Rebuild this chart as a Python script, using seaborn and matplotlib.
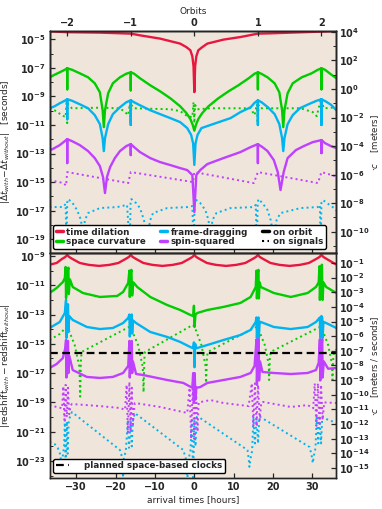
import numpy as np
import matplotlib
matplotlib.use('Agg')
import matplotlib.pyplot as plt
import seaborn as sns
from matplotlib.lines import Line2D
from matplotlib.ticker import FixedLocator, NullFormatter

# 1. Dados: (horas, log10 do valor)
C = 2.998e8           # m/s
PERIOD = 16.15        # horas por órbita
orbit_ticks = [-2, -1, 0, 1, 2]
hour_ticks = [-30, -20, -10, 0, 10, 20, 30]
CLOCK_LEVEL = 2.3e-16

# painel superior: |dt_with - dt_without| [s]
td_delay = [(-36.8, -4.44), (-32.3, -4.5), (-24.0, -4.53), (-16.15, -4.6), (-13.8, -4.72), (-8.7, -4.95),
            (-3.6, -5.3), (-2.0, -5.55), (-1.0, -5.77), (-0.5, -6.2), (-0.2, -6.9), (0, -8.7), (0.2, -6.9),
            (0.5, -6.2), (1.0, -5.77), (2.0, -5.55), (3.3, -5.3), (7.4, -5.02), (11.7, -4.84), (16.15, -4.6),
            (19.4, -4.58), (24.5, -4.53), (32.3, -4.46), (36.1, -4.42)]

sc_delay = [(-36.8, -7.66), (-35.5, -7.48), (-34.2, -7.31), (-32.9, -7.13), (-32.3, -7.03), (-32.3, -8.5),
            (-32.3, -7.03), (-31.1, -7.13), (-29.1, -7.38), (-27.0, -7.66), (-25.3, -8.08), (-24.0, -8.71),
            (-23.3, -9.97), (-23.0, -11.15), (-22.7, -9.97), (-21.9, -8.78), (-20.7, -8.08), (-18.9, -7.66),
            (-17.3, -7.41), (-16.15, -7.31), (-16.15, -8.57), (-16.15, -7.31), (-15.3, -7.41), (-13.8, -7.73),
            (-11.2, -8.22), (-8.7, -8.64), (-6.1, -9.13), (-3.6, -9.69), (-2.0, -10.17), (-1.0, -10.59),
            (-0.4, -11.0), (0, -11.4), (0.4, -11.0), (1.0, -10.59), (2.0, -10.17), (3.6, -9.69), (6.1, -9.13),
            (8.7, -8.64), (11.2, -8.22), (13.8, -7.73), (15.3, -7.41), (16.15, -7.31), (16.15, -8.5),
            (16.15, -7.31), (17.0, -7.41), (18.6, -7.66), (20.4, -8.08), (21.6, -8.71), (22.3, -9.97),
            (22.6, -11.15), (22.9, -9.97), (23.7, -8.78), (25.0, -8.08), (27.3, -7.66), (29.8, -7.38),
            (31.4, -7.13), (32.3, -7.03), (32.3, -8.5), (32.3, -7.03), (33.2, -7.13), (34.7, -7.45), (36.1, -7.73)]

sc_delay_sig = [(-36.8, -9.83), (-35.5, -9.97), (-33.7, -10.31), (-32.7, -10.45), (-32.45, -9.27), (-32.3, -10.87),
                (-32.15, -9.5), (-31.1, -9.83), (-24.0, -9.79), (-18.9, -9.83), (-17.6, -10.1), (-16.8, -10.31),
                (-16.4, -9.55), (-16.2, -10.87), (-16.0, -9.6), (-15.3, -9.83), (-6.1, -9.9), (-3.6, -10.03),
                (-1.8, -10.38), (-0.5, -10.45), (-0.2, -9.4), (0, -10.87), (0.2, -9.6), (0.8, -9.9), (4.1, -9.83),
                (14.3, -9.83), (15.3, -10.31), (15.9, -9.55), (16.1, -10.87), (16.3, -9.6), (16.8, -9.83),
                (27.0, -9.83), (30.1, -10.1), (31.1, -10.38), (32.1, -9.27), (32.3, -10.87), (32.5, -9.5),
                (32.9, -9.83), (36.1, -9.76)]

fd_delay = [(-36.8, -9.83), (-35.5, -9.69), (-34.2, -9.48), (-32.9, -9.3), (-32.3, -9.2), (-32.3, -10.6),
            (-32.3, -9.2), (-31.1, -9.3), (-29.1, -9.55), (-27.0, -9.83), (-25.3, -10.31), (-24.0, -10.94),
            (-23.3, -11.92), (-23.0, -12.83), (-22.7, -11.92), (-21.9, -10.94), (-20.7, -10.24), (-18.9, -9.76),
            (-17.3, -9.41), (-16.15, -9.27), (-16.15, -11.0), (-16.15, -9.27), (-15.3, -9.41), (-13.8, -9.62),
            (-11.2, -9.97), (-8.7, -10.24), (-6.1, -10.52), (-3.6, -10.8), (-1.8, -11.22), (-0.8, -11.7),
            (-0.3, -12.3), (0, -13.8), (0.3, -12.3), (0.8, -11.7), (1.8, -11.22), (4.1, -11.0), (9.2, -10.52),
            (11.7, -10.1), (14.3, -9.76), (15.3, -9.45), (16.15, -9.27), (16.15, -11.0), (16.15, -9.27),
            (17.1, -9.41), (18.7, -9.76), (20.4, -10.24), (21.6, -10.94), (22.3, -11.92), (22.6, -12.83),
            (22.9, -11.92), (23.7, -10.94), (25.0, -10.31), (26.8, -9.83), (29.0, -9.55), (31.1, -9.3),
            (32.3, -9.2), (32.3, -11.0), (32.3, -9.2), (33.4, -9.35), (34.8, -9.6), (36.1, -9.97)]

fd_delay_sig = [(-36.8, -16.75), (-33.4, -16.75), (-32.7, -16.54), (-32.5, -19.5), (-32.3, -16.45), (-32.1, -16.19),
                (-31.1, -16.4), (-29.8, -16.96), (-28.8, -17.66), (-28.3, -18.9), (-27.8, -17.66), (-27.0, -17.17),
                (-24.0, -16.82), (-19.6, -16.75), (-17.1, -16.6), (-16.4, -19.5), (-16.2, -16.45), (-16.0, -16.19),
                (-14.8, -16.47), (-13.8, -16.82), (-12.8, -17.66), (-12.0, -18.9), (-11.2, -17.66), (-10.5, -17.17),
                (-6.9, -16.82), (-1.8, -16.75), (-0.5, -16.68), (-0.2, -19.5), (0.1, -16.45), (0.5, -16.26),
                (1.5, -16.47), (2.8, -16.96), (3.6, -17.66), (4.1, -18.9), (4.6, -17.66), (5.6, -17.17),
                (9.2, -16.82), (15.1, -16.75), (15.6, -16.6), (15.9, -19.5), (16.1, -16.45), (16.3, -16.19),
                (17.3, -16.47), (18.6, -16.96), (19.4, -17.66), (20.2, -18.9), (20.9, -17.66), (21.9, -17.17),
                (27.0, -16.82), (31.4, -16.75), (31.9, -16.6), (32.1, -19.5), (32.3, -16.45), (32.7, -16.26),
                (33.7, -16.47), (35.5, -16.82), (36.1, -17.0)]

ss_delay = [(-36.8, -12.76), (-36.0, -12.69), (-34.2, -12.41), (-32.9, -12.13), (-32.3, -11.99), (-32.3, -13.67),
            (-32.3, -11.99), (-31.1, -12.13), (-29.1, -12.41), (-27.0, -12.83), (-25.3, -13.32), (-24.0, -13.88),
            (-23.2, -14.65), (-22.7, -15.77), (-22.2, -14.65), (-21.4, -13.95), (-20.2, -13.32), (-18.9, -12.83),
            (-17.3, -12.48), (-16.15, -12.34), (-16.15, -13.11), (-16.15, -12.34), (-15.3, -12.55), (-13.8, -12.9),
            (-11.2, -13.32), (-8.7, -13.6), (-6.1, -13.81), (-3.6, -14.02), (-1.8, -14.16), (-0.5, -14.51),
            (0, -17.1), (0.5, -14.51), (1.5, -14.16), (3.3, -13.74), (7.4, -13.32), (11.7, -12.9), (14.3, -12.55),
            (16.15, -12.34), (16.15, -13.67), (16.15, -12.34), (17.3, -12.55), (18.6, -12.83), (20.2, -13.46),
            (21.2, -14.3), (21.9, -15.56), (22.7, -14.3), (23.7, -13.32), (25.8, -12.76), (27.8, -12.48),
            (30.1, -12.2), (32.3, -12.06), (32.3, -12.97), (32.3, -12.06), (33.2, -12.27), (34.7, -12.48),
            (36.1, -12.62)]

ss_delay_sig = [(-36.8, -14.86), (-33.2, -15.07), (-32.6, -15.25), (-32.3, -14.3), (-16.8, -15.07), (-16.15, -14.3),
                (-0.3, -15.0), (0, -14.3), (15.1, -15.07), (16.15, -14.3), (31.4, -15.07), (32.3, -14.3),
                (36.1, -14.6)]

# painel inferior: |redshift_with - redshift_without|
td_shift = [(-36.8, -9.6), (-35.0, -9.48), (-33.6, -9.2), (-32.8, -9.07), (-32.3, -8.93), (-31.8, -9.07),
            (-31.0, -9.2), (-29.1, -9.48), (-26.8, -9.61), (-24.2, -9.68), (-21.6, -9.61), (-19.3, -9.48),
            (-17.45, -9.2), (-16.65, -9.07), (-16.15, -8.93), (-15.65, -9.07), (-14.85, -9.2), (-12.95, -9.48),
            (-10.65, -9.61), (-8.1, -9.68), (-5.5, -9.61), (-3.2, -9.48), (-1.3, -9.2), (-0.5, -9.07), (0, -8.93),
            (0.5, -9.07), (1.3, -9.2), (3.2, -9.48), (5.5, -9.61), (8.1, -9.68), (10.65, -9.61), (12.95, -9.48),
            (14.85, -9.2), (15.65, -9.07), (16.15, -8.93), (16.65, -9.07), (17.45, -9.2), (19.35, -9.48),
            (21.65, -9.61), (24.2, -9.68), (26.8, -9.61), (29.1, -9.48), (31.0, -9.2), (31.8, -9.07),
            (32.3, -8.93), (32.8, -9.07), (33.6, -9.2), (35.5, -9.5), (36.1, -9.58)]

sc_shift = [(-36.8, -11.53), (-35.0, -11.19), (-33.4, -10.78), (-32.9, -10.5), (-32.7, -9.75), (-32.6, -11.87),
            (-32.3, -10.2), (-32.0, -9.8), (-31.9, -11.6), (-31.6, -10.6), (-30.9, -11.12), (-28.3, -11.53),
            (-24.0, -11.8), (-19.6, -11.73), (-18.1, -11.46), (-16.8, -10.84), (-16.5, -10.0), (-16.4, -11.8),
            (-16.15, -10.2), (-16.0, -9.95), (-15.8, -11.7), (-15.5, -10.8), (-14.5, -11.12), (-11.2, -11.8),
            (-6.9, -12.35), (-3.6, -12.69), (-1.0, -13.03), (-0.3, -13.1), (-0.1, -12.4), (0.05, -13.85),
            (0.3, -13.0), (0.8, -12.89), (3.3, -12.69), (7.4, -12.48), (11.7, -12.21), (14.3, -11.8),
            (15.6, -11.12), (15.8, -10.0), (15.9, -11.9), (16.15, -10.1), (16.3, -9.95), (16.4, -11.9),
            (16.6, -10.8), (16.9, -11.12), (20.2, -11.53), (24.5, -11.8), (28.8, -11.53), (30.9, -11.12),
            (31.6, -10.8), (31.8, -9.7), (31.9, -12.0), (32.2, -10.0), (32.4, -9.6), (32.6, -12.0),
            (32.8, -10.8), (33.5, -11.12), (36.1, -11.53)]

sc_shift_sig = [(-36.8, -14.74), (-34.2, -14.33), (-32.5, -13.85), (-32.1, -13.92), (-30.4, -15.08), (-29.2, -16.58),
                (-29.0, -18.6), (-28.8, -16.0), (-28.6, -15.55), (-16.6, -13.85), (-16.1, -13.92), (-14.3, -15.08),
                (-13.1, -16.58), (-12.9, -18.3), (-12.7, -16.0), (-12.5, -15.55), (-0.4, -13.71), (0.1, -13.85),
                (1.8, -15.08), (2.9, -16.58), (3.0, -17.67), (3.2, -16.0), (3.4, -15.55), (15.7, -13.85),
                (16.2, -13.92), (17.9, -15.08), (18.9, -16.4), (19.0, -17.47), (19.2, -16.0), (19.4, -15.55),
                (31.9, -13.85), (32.4, -13.92), (34.0, -15.08), (35.0, -16.4), (35.1, -17.47), (35.3, -16.0),
                (35.5, -15.55), (36.1, -15.4)]

fd_shift = [(-36.8, -13.92), (-34.2, -13.51), (-32.9, -12.89), (-32.6, -12.0), (-32.5, -14.6), (-32.3, -12.6),
            (-32.1, -12.3), (-32.0, -14.2), (-31.8, -13.1), (-30.9, -13.37), (-27.3, -13.85), (-24.0, -13.99),
            (-20.7, -13.92), (-18.1, -13.58), (-16.8, -13.23), (-16.5, -13.0), (-16.4, -14.5), (-16.15, -13.2),
            (-15.9, -13.0), (-15.8, -14.3), (-15.6, -13.4), (-14.8, -13.58), (-11.2, -14.19), (-6.9, -14.53),
            (-3.6, -14.87), (-1.0, -15.22), (-0.3, -15.3), (-0.1, -14.9), (0.05, -16.6), (0.2, -15.0),
            (0.5, -15.3), (0.8, -15.28), (3.3, -15.08), (7.4, -14.74), (11.7, -14.4), (14.3, -14.05),
            (15.6, -13.51), (15.8, -13.2), (15.9, -14.6), (16.15, -13.3), (16.3, -13.2), (16.4, -14.6),
            (16.6, -13.5), (16.9, -13.51), (20.2, -13.85), (24.5, -13.99), (28.8, -13.85), (30.9, -13.51),
            (31.6, -13.3), (31.9, -13.2), (32.0, -14.6), (32.3, -13.1), (32.5, -13.2), (32.6, -14.6),
            (32.8, -13.5), (33.5, -13.58), (36.1, -13.92)]

fd_shift_sig = [(-36.8, -21.7), (-35.5, -21.84), (-34.7, -22.11), (-34.0, -22.6), (-33.7, -23.6), (-33.4, -22.6),
                (-33.1, -22.0), (-32.9, -20.2), (-32.7, -23.2), (-32.4, -20.3), (-32.2, -22.5), (-31.9, -20.2),
                (-31.1, -19.66), (-18.9, -22.25), (-18.3, -22.8), (-18.1, -24.3), (-17.9, -22.8), (-17.4, -22.3),
                (-16.9, -20.2), (-16.6, -22.1), (-16.2, -20.3), (-15.9, -22.0), (-15.6, -20.2), (-15.1, -19.73),
                (-2.8, -22.25), (-2.2, -22.8), (-1.8, -24.3), (-1.4, -22.8), (-1.0, -22.3), (-0.6, -20.2),
                (-0.3, -24.3), (0, -20.2), (0.3, -22.0), (0.6, -20.0), (1.5, -20.07), (13.5, -22.25),
                (13.8, -22.8), (14.0, -23.4), (14.3, -22.8), (14.7, -22.3), (15.0, -20.0), (15.4, -21.8),
                (15.8, -20.1), (16.2, -21.8), (16.5, -20.0), (16.8, -20.0), (29.3, -22.05), (29.8, -22.6),
                (30.1, -23.14), (30.4, -22.6), (30.8, -22.1), (31.1, -19.9), (31.5, -21.8), (31.8, -19.9),
                (32.2, -21.8), (32.5, -20.0), (32.9, -20.07), (36.1, -20.4)]

ss_shift = [(-36.8, -16.65), (-35.0, -16.38), (-33.4, -15.97), (-32.8, -15.3), (-32.6, -14.74), (-32.5, -17.3),
            (-32.3, -15.2), (-32.1, -14.8), (-32.0, -17.0), (-31.8, -15.8), (-30.9, -16.79), (-27.3, -17.26),
            (-24.0, -17.33), (-20.7, -17.26), (-18.1, -16.99), (-16.8, -16.51), (-16.5, -14.8), (-16.4, -17.3),
            (-16.15, -15.2), (-15.9, -14.8), (-15.8, -17.0), (-15.6, -16.2), (-14.8, -17.06), (-13.0, -17.13),
            (-6.9, -17.47), (-2.8, -17.67), (-0.5, -18.0), (-0.3, -17.0), (-0.1, -19.0), (0.1, -17.0),
            (0.3, -18.8), (0.5, -18.0), (1.5, -17.95), (3.3, -17.67), (7.4, -17.47), (11.7, -17.26),
            (14.3, -16.99), (15.3, -16.51), (15.8, -14.7), (15.9, -17.8), (16.15, -15.2), (16.35, -14.7),
            (16.45, -17.5), (16.7, -16.2), (17.3, -16.92), (20.2, -16.99), (24.5, -17.06), (28.8, -16.99),
            (30.9, -16.79), (31.6, -16.3), (31.9, -14.7), (32.0, -17.5), (32.3, -15.2), (32.5, -14.7),
            (32.6, -17.3), (32.9, -16.2), (34.0, -16.7), (36.1, -16.65)]

ss_shift_sig = [(-36.8, -19.18), (-35.0, -19.31), (-33.6, -19.4), (-33.3, -17.9), (-33.0, -20.2), (-32.7, -17.8),
                (-32.4, -20.0), (-32.1, -18.0), (-31.8, -19.8), (-31.4, -19.2), (-31.1, -19.11), (-24.0, -19.25),
                (-18.9, -19.38), (-17.6, -19.5), (-17.2, -17.8), (-16.9, -21.1), (-16.5, -17.6), (-16.2, -21.0),
                (-15.9, -18.0), (-15.6, -20.5), (-15.2, -19.2), (-15.1, -19.04), (-8.7, -19.31), (-1.8, -19.72),
                (-1.2, -18.0), (-0.8, -21.5), (-0.4, -17.7), (0, -21.5), (0.4, -17.8), (0.8, -21.0), (1.1, -19.0),
                (4.1, -18.84), (7.4, -19.04), (13.8, -19.25), (14.6, -17.7), (15.0, -20.6), (15.4, -17.7),
                (15.8, -20.6), (16.2, -17.8), (16.6, -20.2), (17.0, -19.0), (17.5, -18.97), (24.5, -19.31),
                (28.8, -19.18), (30.2, -19.4), (30.6, -17.7), (31.0, -20.6), (31.4, -17.7), (31.8, -20.6),
                (32.2, -17.8), (32.6, -20.2), (33.0, -19.0), (36.1, -19.04)]

# 2. Estilo
sns.set_style('ticks')
plt.rcParams['font.family'] = ['DejaVu Sans']
plt.rcParams['axes.linewidth'] = 1.0

RED, GREEN, BLUE, PURPLE = '#e8173f', '#00cc00', '#00b4f0', '#bf40ff'
BG = '#f0e5da'
XLIM = (-36.8, 36.0)
YLIM_TOP = (10 ** -19.97, 10 ** -4.42)
YLIM_BOT = (10 ** -24.16, 10 ** -8.8)


def draw(ax, pts, color, ls='-'):
    t, e = zip(*pts)
    lw = 1.7 if ls == '-' else 1.4
    sns.lineplot(x=np.array(t), y=10.0 ** np.array(e), ax=ax, color=color, linewidth=lw,
                 linestyle=ls, estimator=None, sort=False)


def bold_pow(exps):
    return [rf'$\mathbf{{10^{{{e}}}}}$' for e in exps]


def setup_log_axis(ax, lo, hi, step, ylim, pad=3.0):
    ax.set_yscale('log')
    ax.set_ylim(ylim)
    exps = list(range(hi, lo - 1, -step))
    ax.yaxis.set_major_locator(FixedLocator([10.0 ** e for e in exps]))
    ax.set_yticklabels(bold_pow(exps), fontsize=7)
    ax.yaxis.set_minor_locator(FixedLocator([10.0 ** e for e in range(hi + 2, lo - 3, -1)]))
    ax.yaxis.set_minor_formatter(NullFormatter())
    ax.tick_params(axis='y', which='major', direction='in', length=3.5, width=0.9, pad=pad)
    ax.tick_params(axis='y', which='minor', direction='in', length=2, width=0.7)


def minus(v):
    return str(v).replace('-', '\u2212')


fig = plt.figure(figsize=(3.82, 5.09), dpi=100)
ax1 = fig.add_axes([0.1296, 0.5029, 0.75, 0.4361])
ax2 = fig.add_axes([0.1296, 0.0609, 0.75, 0.4420])

# 3. Painel superior
ax1.set_facecolor(BG)
ax1.set_yscale('log')
draw(ax1, td_delay, RED)
draw(ax1, sc_delay, GREEN)
draw(ax1, sc_delay_sig, GREEN, ':')
draw(ax1, fd_delay, BLUE)
draw(ax1, fd_delay_sig, BLUE, ':')
draw(ax1, ss_delay, PURPLE)
draw(ax1, ss_delay_sig, PURPLE, ':')
ax1.set_xlim(XLIM)
setup_log_axis(ax1, -19, -5, 2, YLIM_TOP)
ax1.set_xticks(hour_ticks)
ax1.tick_params(axis='x', direction='in', labelbottom=False, length=3.5, width=0.9)
ax1.set_ylabel(r'$|\Delta t_{with}\!-\!\Delta t_{without}|$   [seconds]', fontsize=6.5, labelpad=2)

ax1t = ax1.twiny()
ax1t.set_xlim(XLIM)
ax1t.set_xticks([k * PERIOD for k in orbit_ticks], [minus(k) for k in orbit_ticks],
                fontsize=7, fontweight='bold')
ax1t.tick_params(axis='x', direction='in', length=3.5, width=0.9, pad=2)
ax1t.set_xlabel('Orbits', fontsize=6.5, labelpad=3)

ax1r = ax1.twinx()
setup_log_axis(ax1r, -10, 4, 2, (YLIM_TOP[0] * C, YLIM_TOP[1] * C), pad=2)
ax1r.set_ylabel(r'$\cdot c$    [meters]', fontsize=6.2)
ax1r.yaxis.set_label_coords(1.117, 0.5)

handles = [Line2D([], [], color=RED, lw=2.5), Line2D([], [], color=GREEN, lw=2.5),
           Line2D([], [], color=BLUE, lw=2.5), Line2D([], [], color=PURPLE, lw=2.5),
           Line2D([], [], color='black', lw=2.5), Line2D([], [], color='black', lw=1.5, ls=':')]
labels = ['time dilation', 'space curvature', 'frame-dragging', 'spin-squared', 'on orbit', 'on signals']
leg1 = ax1.legend(handles, labels, loc='lower left', bbox_to_anchor=(0.012, 0.018, 0.953, 0.1),
                  mode='expand', ncol=3, prop={'weight': 'bold', 'size': 6.3}, handlelength=0.8,
                  handletextpad=0.4, borderaxespad=0, borderpad=0.3, labelspacing=0.1,
                  columnspacing=0.5, edgecolor='black', framealpha=1, fancybox=True)
leg1.get_frame().set_linewidth(1.0)

# 4. Painel inferior
ax2.set_facecolor(BG)
ax2.set_yscale('log')
draw(ax2, td_shift, RED)
draw(ax2, sc_shift, GREEN)
draw(ax2, sc_shift_sig, GREEN, ':')
draw(ax2, fd_shift, BLUE)
draw(ax2, fd_shift_sig, BLUE, ':')
draw(ax2, ss_shift, PURPLE)
draw(ax2, ss_shift_sig, PURPLE, ':')
ax2.axhline(CLOCK_LEVEL, color='black', lw=1.6, ls=(0, (3.5, 2)), label='planned space-based clocks')
ax2.set_xlim(XLIM)
setup_log_axis(ax2, -23, -9, 2, YLIM_BOT)
ax2.set_xticks(hour_ticks, [minus(v) for v in hour_ticks], fontsize=7, fontweight='bold')
ax2.tick_params(axis='x', direction='in', length=3.5, width=0.9, pad=3)
ax2.set_xlabel('arrival times [hours]', fontsize=6.5, labelpad=2)
ax2.set_ylabel(r'$|\mathrm{redshift}_{with} - \mathrm{redshift}_{without}|$', fontsize=6.5, labelpad=2)

ax2r = ax2.twinx()
setup_log_axis(ax2r, -15, -1, 1, (YLIM_BOT[0] * C, YLIM_BOT[1] * C), pad=2)
ax2r.set_ylabel(r'$\cdot c$    [meters / seconds]', fontsize=6.2)
ax2r.yaxis.set_label_coords(1.117, 0.5)

leg2 = ax2.legend(loc='lower left', bbox_to_anchor=(0.012, 0.022), prop={'weight': 'bold', 'size': 6.3},
                  handlelength=1.5, handletextpad=1.8, borderaxespad=0, borderpad=0.3,
                  edgecolor='black', framealpha=1, fancybox=True)
leg2.get_frame().set_linewidth(1.0)

fig.savefig('out.png', dpi=100)
